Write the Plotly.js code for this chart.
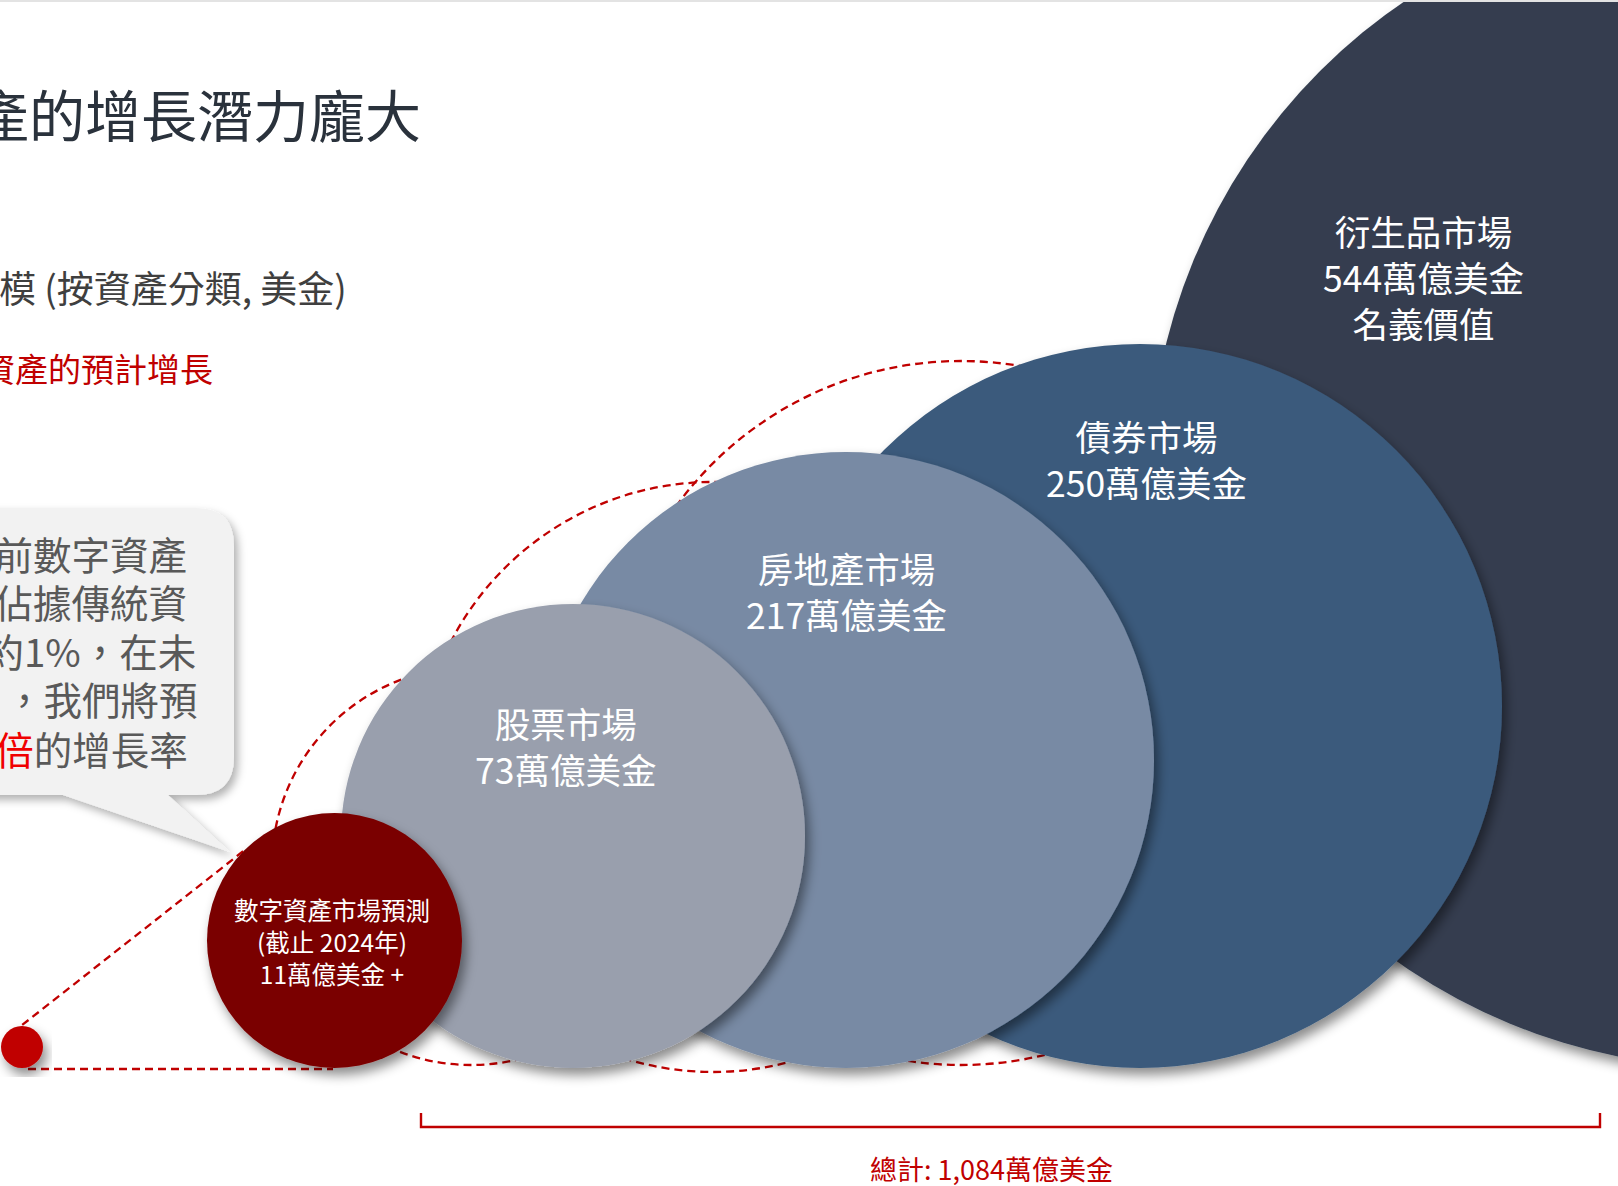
<!DOCTYPE html>
<html>
<head>
<meta charset="utf-8">
<script src="https://cdn.plot.ly/plotly-3.0.1.min.js"></script>
<style>
html,body{margin:0;padding:0;background:#ffffff;overflow:hidden}
#chart{width:1618px;height:1186px}
</style>
</head>
<body>
<div id="chart"></div>
<script>
// ---------------- DATA ----------------
const categories   = ['數字資產市場預測', '股票市場', '房地產市場', '債券市場', '衍生品市場'];
const marketValues = [11, 73, 217, 250, 544];            // 萬億美金
const valueSuffix  = [' +', '', '', '', ''];
const noteLines    = ['(截止 2024年)', '', '', '', '名義價值'];
const unitText     = '萬億美金';
const titleText    = '數字資產的增長潛力龐大';
const subtitleText = '傳統資產市場規模 (按資產分類, 美金)';
const legendText   = '數字資產的預計增長';
const calloutLines = ['目前數字資產', '只佔據傳統資', '產約1%，在未', '，我們將預', '期<span style="color:#f00000">10倍</span>的增長率'];
const totalLabel   = '總計: ';

// ---------------- LAYOUT GEOMETRY (pixels on a 1:1 axis) ----------------
const W = 1618, H = 1186;
const baselineY   = 1068;
const bubbleCx    = [334.5, 573, 846, 1140, 1733];
const bubbleR     = [127.5, 232, 308, 362, 584];
const bubbleColor = ['#7a0000', '#999fad', '#788aa4', '#3b5a7b', '#343e50'];
const labelX      = [332, 565, 846, 1146, 1423];
const labelCy     = [941, 745, 590, 458, 276.5];
const labelSize   = [24.5, 35.5, 35.5, 35.5, 35.5];
// projected-growth ghost circles (dashed)
const ghostCx = [471, 713, 961];
const ghostCy = [866, 777, 713];
const ghostR  = [199, 295, 352];
// callout text line placement
const calloutRight = [189, 189, 198, 200, 190];
const calloutY     = [553, 601, 650, 698, 748];

const FONT = '"Noto Sans CJK TC", "Noto Sans", sans-serif';
const RED = '#c00000';

// ---------------- TRACES ----------------
const traces = [];
// draw biggest first so smaller bubbles sit on top
for (let i = categories.length - 1; i >= 0; i--) {
  traces.push({
    type: 'scatter', mode: 'markers', hoverinfo: 'skip', name: categories[i],
    x: [bubbleCx[i]], y: [baselineY - bubbleR[i]],
    marker: { size: 2 * bubbleR[i], color: bubbleColor[i], opacity: 1, line: { width: 0 } }
  });
}
// starting point dot
traces.push({
  type: 'scatter', mode: 'markers', hoverinfo: 'skip', name: 'start',
  x: [22], y: [1047],
  marker: { size: 42, color: RED, opacity: 1, line: { width: 0 } }
});

// ---------------- SHAPES ----------------
const dashLine = { color: RED, width: 2.3, dash: '8px,5px' };
const shapes = [];
for (let k = 0; k < ghostCx.length; k++) {
  shapes.push({
    type: 'circle', xref: 'x', yref: 'y', layer: 'below',
    x0: ghostCx[k] - ghostR[k], x1: ghostCx[k] + ghostR[k],
    y0: ghostCy[k] - ghostR[k], y1: ghostCy[k] + ghostR[k],
    line: dashLine, fillcolor: 'rgba(0,0,0,0)'
  });
}
shapes.push({ type: 'line', xref: 'x', yref: 'y', layer: 'below', x0: 28, y0: baselineY + 1, x1: 333, y1: baselineY + 1, line: dashLine });
shapes.push({ type: 'line', xref: 'x', yref: 'y', layer: 'below', x0: 12, y0: 1033, x1: 246, y1: 849, line: dashLine });
// speech bubble
shapes.push({
  type: 'path', xref: 'x', yref: 'y', layer: 'below',
  path: 'M -60,508 L 196,508 Q 234,508 234,546 L 234,757 Q 234,795 196,795 L 168,795 L 230,852 L 63,795 L -60,795 Z',
  fillcolor: '#f2f2f2', line: { width: 0 }
});
// bracket
shapes.push({
  type: 'path', xref: 'x', yref: 'y', layer: 'above',
  path: 'M 421,1113 L 421,1127 L 1600,1127 L 1600,1113',
  line: { color: RED, width: 2.4 }
});
// top slide edge
shapes.push({ type: 'line', xref: 'x', yref: 'y', layer: 'above', x0: 0, y0: 1, x1: W, y1: 1, line: { color: '#e3e3e3', width: 2 } });

// ---------------- ANNOTATIONS ----------------
const annotations = [];
function txt(text, x, y, size, color, xanchor, align) {
  annotations.push({
    text: text, x: x, y: y, xref: 'x', yref: 'y', showarrow: false,
    xanchor: xanchor || 'center', yanchor: 'middle', align: align || 'center',
    font: { family: FONT, size: size, color: color }
  });
}
txt(titleText, 423, 112, 56, '#2a323c', 'right');
txt(subtitleText, 349, 287, 37, '#3f3f3f', 'right');
txt(legendText, 215, 368, 33, RED, 'right');

calloutLines.forEach((t, i) => txt(t, calloutRight[i], calloutY[i], 38.5, '#595959', 'right', 'right'));

categories.forEach((name, i) => {
  const valueLine = marketValues[i] + unitText + valueSuffix[i];
  let lines;
  if (i === 0) lines = [name, noteLines[i], valueLine];
  else lines = [name, valueLine].concat(noteLines[i] ? [noteLines[i]] : []);
  txt(lines.join('<br>'), labelX[i], labelCy[i], labelSize[i], '#ffffff', 'center', 'center');
});

const totalTraditional = marketValues.slice(1).reduce((a, b) => a + b, 0);
txt(totalLabel + totalTraditional.toLocaleString('en-US') + unitText, 991, 1168, 27, RED, 'center');

// ---------------- LAYOUT ----------------
const layout = {
  width: W, height: H,
  margin: { l: 0, r: 0, t: 0, b: 0, pad: 0 },
  paper_bgcolor: '#ffffff', plot_bgcolor: '#ffffff',
  showlegend: false,
  xaxis: { range: [0, W], visible: false, showgrid: false, zeroline: false, fixedrange: true },
  yaxis: { range: [H, 0], visible: false, showgrid: false, zeroline: false, fixedrange: true },
  shapes: shapes, annotations: annotations
};

Plotly.newPlot('chart', traces, layout, { staticPlot: true, displayModeBar: false }).then(gd => {
  const NS = 'http://www.w3.org/2000/svg';
  const svg = gd.querySelector('svg.main-svg');
  let defs = svg.querySelector('defs');
  if (!defs) { defs = document.createElementNS(NS, 'defs'); svg.insertBefore(defs, svg.firstChild); }
  function mkFilter(id, dx, dy, sd, op) {
    const f = document.createElementNS(NS, 'filter');
    f.setAttribute('id', id);
    f.setAttribute('x', '-20%'); f.setAttribute('y', '-20%');
    f.setAttribute('width', '140%'); f.setAttribute('height', '140%');
    const ds = document.createElementNS(NS, 'feDropShadow');
    ds.setAttribute('dx', dx); ds.setAttribute('dy', dy);
    ds.setAttribute('stdDeviation', sd);
    ds.setAttribute('flood-color', '#000000'); ds.setAttribute('flood-opacity', op);
    f.appendChild(ds); defs.appendChild(f);
  }
  mkFilter('bubbleShadow', 4, 7, 6, 0.45);
  mkFilter('calloutShadow', 4, 5, 4, 0.3);
  gd.querySelectorAll('.scatterlayer path.point').forEach(p => p.setAttribute('filter', 'url(#bubbleShadow)'));
  gd.querySelectorAll('.shapelayer path').forEach(p => {
    const st = (p.getAttribute('style') || '');
    if (st.indexOf('242') >= 0) p.setAttribute('filter', 'url(#calloutShadow)');
  });
});
</script>
</body>
</html>
